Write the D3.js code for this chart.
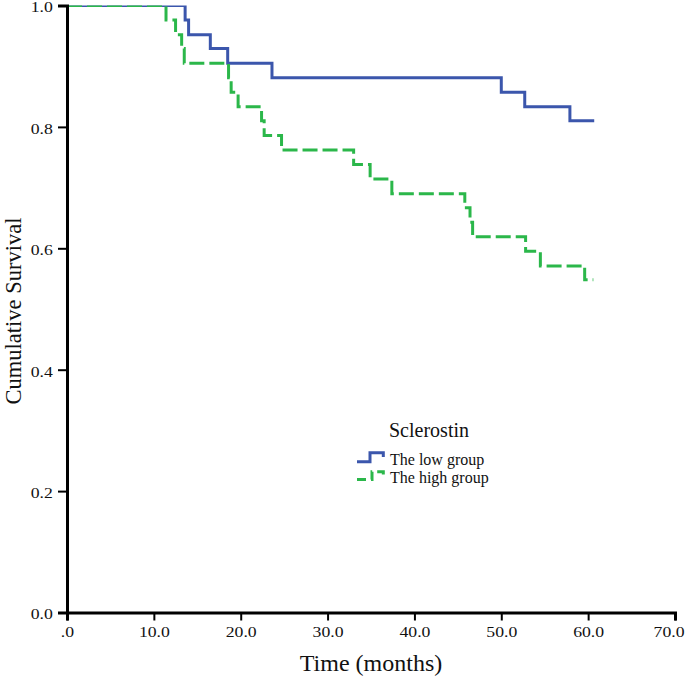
<!DOCTYPE html>
<html>
<head>
<meta charset="utf-8">
<script src="https://cdn.jsdelivr.net/npm/d3@7"></script>
<style>
  html, body { margin: 0; padding: 0; background: #fff; }
  text { font-family: "Liberation Serif", "Times New Roman", serif; fill: #111; }
</style>
</head>
<body>
<svg id="chart" width="685" height="678"></svg>
<script>
// ---- data ----
const lowTimes  = [0, 13.6, 14.0, 16.5, 18.5, 23.6, 50.0, 52.7, 57.9, 60.7];
const lowSurv   = [1, 0.976, 0.952, 0.929, 0.905, 0.881, 0.857, 0.833, 0.810, 0.810];
const highTimes = [0, 11.4, 12.5, 13.2, 13.5, 18.6, 18.9, 19.7, 22.4, 22.7, 24.7, 33.0, 34.9, 37.4, 45.8, 46.4, 46.7, 52.8, 54.5, 59.6, 60.6];
const highSurv  = [1, 0.976, 0.952, 0.929, 0.905, 0.881, 0.857, 0.833, 0.810, 0.786, 0.762, 0.738, 0.714, 0.690, 0.667, 0.643, 0.619, 0.595, 0.571, 0.548, 0.548];
const xTicks = [0, 10, 20, 30, 40, 50, 60, 70];
const xTickLabels = [".0", "10.0", "20.0", "30.0", "40.0", "50.0", "60.0", "70.0"];
const yTicks = [0, 0.2, 0.4, 0.6, 0.8, 1.0];
const yTickLabels = ["0.0", "0.2", "0.4", "0.6", "0.8", "1.0"];
const seriesNames = ["The low group", "The high group"];
const legendTitle = "Sclerostin";

// ---- layout ----
const svg = d3.select("#chart");
const x = d3.scaleLinear().domain([0, 70]).range([67, 675]);
const y = d3.scaleLinear().domain([0, 1]).range([612.5, 5.5]);
const blue = "#3b56ac", green = "#2bb74a";
const tickStretch = 1.18;

svg.append("defs").append("clipPath").attr("id", "plotclip")
  .append("rect").attr("x", x(0)).attr("y", y(1))
  .attr("width", x(70) - x(0)).attr("height", y(0) - y(1));

const line = d3.line().x(d => x(d[0])).y(d => y(d[1])).curve(d3.curveStepAfter);
const lowData = lowTimes.map((t, i) => [t, lowSurv[i]]);
const highData = highTimes.map((t, i) => [t, highSurv[i]]);

const plot = svg.append("g").attr("clip-path", "url(#plotclip)");
plot.append("path").datum(lowData).attr("d", line)
  .attr("fill", "none").attr("stroke", blue).attr("stroke-width", 3);
plot.append("path").datum(highData).attr("d", line)
  .attr("fill", "none").attr("stroke", green).attr("stroke-width", 3)
  .attr("stroke-dasharray", "15,5");

// ---- axes ----
const xAxis = d3.axisBottom(x).tickValues(xTicks)
  .tickFormat((d, i) => xTickLabels[i]).tickSizeOuter(0).tickSize(8).tickPadding(6);
const yAxis = d3.axisLeft(y).tickValues(yTicks)
  .tickFormat((d, i) => yTickLabels[i]).tickSizeOuter(0).tickSize(9).tickPadding(3);

const gx = svg.append("g").attr("transform", `translate(0,${y(0)})`).call(xAxis);
const gy = svg.append("g").attr("transform", `translate(${x(0)},0)`).call(yAxis);
[gx, gy].forEach(g => {
  g.select(".domain").attr("stroke", "#000").attr("stroke-width", 3);
  g.selectAll(".tick line").attr("stroke", "#000").attr("stroke-width", 2);
  g.selectAll(".tick text").attr("font-family", "Liberation Serif, serif")
    .attr("font-size", 15).attr("fill", "#111")
    .attr("transform", `scale(${tickStretch},1)`);
});
gy.selectAll(".tick text").attr("dy", "0.42em");
// keep the last x label inside the picture
gx.selectAll(".tick text").filter((d, i) => i === xTicks.length - 1)
  .attr("text-anchor", "end").attr("x", (684 - x(70)) / tickStretch);

// axis titles
svg.append("text").attr("x", x(35)).attr("y", 671).attr("text-anchor", "middle")
  .attr("font-size", 24).text("Time (months)");
svg.append("text").attr("transform", `translate(21,${y(0.5) + 2}) rotate(-90)`)
  .attr("text-anchor", "middle").attr("font-size", 22.5).text("Cumulative Survival");

// ---- legend ----
const leg = svg.append("g");
leg.append("text").attr("x", 389).attr("y", 437).attr("font-size", 20).text(legendTitle);
leg.append("path")
  .attr("d", "M357,461.7 H370 V452.7 H383.3 V457")
  .attr("fill", "none").attr("stroke", blue).attr("stroke-width", 3);
leg.append("path")
  .attr("d", "M357,479.5 H372 V471.7 H383.3 V475.5")
  .attr("fill", "none").attr("stroke", green).attr("stroke-width", 3)
  .attr("stroke-dasharray", "9,5");
leg.append("text").attr("x", 390).attr("y", 465).attr("font-size", 16).text(seriesNames[0]);
leg.append("text").attr("x", 390).attr("y", 483).attr("font-size", 16).text(seriesNames[1]);
</script>
</body>
</html>
